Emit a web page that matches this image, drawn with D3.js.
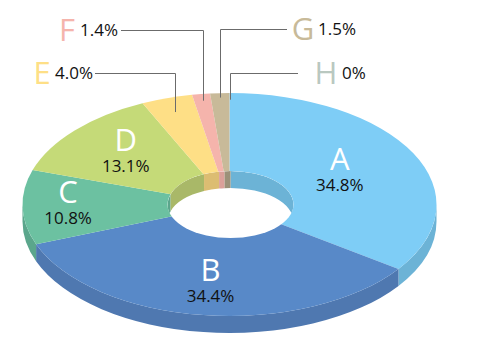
<!DOCTYPE html>
<html>
<head>
<meta charset="utf-8">
<script src="https://cdn.jsdelivr.net/npm/d3@7"></script>
<style>
    html, body { margin: 0; padding: 0; background: #fff; }
    text { font-family: "Open Sans", "Noto Sans", sans-serif; }
</style>
</head>
<body>
<div id="chart"></div>
<script>
// Chart data
const names = ['A', 'B', 'C', 'D', 'E', 'F', 'G', 'H'];
const values = [34.8, 34.4, 10.8, 13.1, 4.0, 1.4, 1.5, 0];
const valueLabels = ['34.8%', '34.4%', '10.8%', '13.1%', '4.0%', '1.4%', '1.5%', '0%'];

// Colours per slice: top surface, outer/inner wall
const topColors = ['#7ecdf6', '#5889c8', '#6cc1a1', '#c5da78', '#fedf86', '#f5b4ac', '#c8ba99', '#b9c8c0'];
const outerColors = ['#6cb3d6', '#4f78b0', '#5ba68c', '#a9bb68', '#dcbd72', '#d59a95', '#a89c82', '#a0aea6'];
const innerColors = ['#6cb3d6', '#4f78b0', '#5ba68c', '#a9b868', '#dcbd72', '#dba09a', '#9c9179', '#a0aea6'];

// Layout
const width = 477, height = 356;
const cx = 229.5, cy = 204.5;
const rx = 207, ry = 111.5, depth = 17;
const holeCx = 230.5, holeRx = 63, holeRy = 33.5;

// Inside labels: name of slice -> distance along the radius
const insideRadius = {A: 0.6, B: 0.73, C: 0.78, D: 0.67};
// Outside labels: elbow height, end of the line, position of the texts
const outside = {
    E: {r: 0.87, y: 73, lineEnd: 95, letterX: 42, valueX: 55},
    F: {r: 0.94, y: 30, lineEnd: 121, letterX: 67, valueX: 80},
    G: {r: 0.96, y: 29, lineEnd: 287, letterX: 303, valueX: 318},
    H: {r: 0.94, y: 73, lineEnd: 298, letterX: 326, valueX: 342}
};

const svg = d3.select('#chart').append('svg')
    .attr('width', width).attr('height', height);

const slices = d3.pie().sort(null).value(d => d)(values)
    .map((d, i) => ({...d, name: names[i], label: valueLabels[i], index: i}));

// Point on an ellipse, angle measured clockwise from the top
const px = (a, r) => cx + r * Math.sin(a);
const py = (a, r) => cy - r * (ry / rx) * Math.cos(a);

// Wall band between an arc of an ellipse and the same arc moved down
function wallPath(x, a0, a1, r, yr){
    const large = a1 - a0 > Math.PI ? 1 : 0;
    const x0 = x + r * Math.sin(a0), y0 = cy - yr * Math.cos(a0);
    const x1 = x + r * Math.sin(a1), y1 = cy - yr * Math.cos(a1);
    return `M${x0},${y0}A${r},${yr} 0 ${large} 1 ${x1},${y1}`
        + `L${x1},${y1 + depth}A${r},${yr} 0 ${large} 0 ${x0},${y0 + depth}Z`;
}

// Clip hole walls to the hole
svg.append('clipPath').attr('id', 'hole')
    .append('ellipse')
    .attr('cx', holeCx).attr('cy', cy).attr('rx', holeRx).attr('ry', holeRy);

// Outer wall, only the front half can be seen
svg.append('g').selectAll('path')
    .data(slices.filter(d => d.endAngle > Math.PI / 2 && d.startAngle < 3 * Math.PI / 2))
    .join('path')
    .attr('fill', d => outerColors[d.index])
    .attr('d', d => wallPath(cx,
        Math.max(d.startAngle, Math.PI / 2),
        Math.min(d.endAngle, 3 * Math.PI / 2), rx, ry));

// Top surface
const arc = d3.arc().innerRadius(0).outerRadius(rx);
svg.append('g')
    .attr('transform', `translate(${cx},${cy}) scale(1,${ry / rx})`)
    .selectAll('path')
    .data(slices)
    .join('path')
    .attr('fill', d => topColors[d.index])
    .attr('d', arc);

// The hole
svg.append('ellipse')
    .attr('cx', holeCx).attr('cy', cy).attr('rx', holeRx).attr('ry', holeRy)
    .attr('fill', '#fff');

// Inner wall, only the back half can be seen
const wrap = a => a > Math.PI ? a - 2 * Math.PI : a;
svg.append('g').attr('clip-path', 'url(#hole)').selectAll('path')
    .data(slices.filter(d => d.value > 0 && (d.startAngle < Math.PI / 2 || d.endAngle > 3 * Math.PI / 2)))
    .join('path')
    .attr('fill', d => innerColors[d.index])
    .attr('d', d => wallPath(holeCx,
        Math.max(wrap(d.startAngle), -Math.PI / 2),
        Math.min(wrap(d.endAngle), Math.PI / 2), holeRx, holeRy));

// Labels inside the slices
const inner = svg.append('g').selectAll('g')
    .data(slices.filter(d => insideRadius[d.name]))
    .join('g')
    .attr('transform', d => {
        const mid = (d.startAngle + d.endAngle) / 2, r = rx * insideRadius[d.name];
        return `translate(${px(mid, r)},${py(mid, r)})`;
    });
inner.append('text')
    .attr('text-anchor', 'middle').attr('y', -4)
    .attr('font-size', 31).attr('fill', '#fff')
    .text(d => d.name);
inner.append('text')
    .attr('text-anchor', 'middle').attr('y', 17)
    .attr('font-size', 17).attr('fill', '#111')
    .text(d => d.label);

// Leader lines and labels outside
const outer = slices.filter(d => outside[d.name]);
const lineX = d => px((d.startAngle + d.endAngle) / 2, rx * outside[d.name].r);
const lineY = d => py((d.startAngle + d.endAngle) / 2, rx * outside[d.name].r);

svg.append('g').selectAll('path')
    .data(outer)
    .join('path')
    .attr('fill', 'none').attr('stroke', '#6b6b6b').attr('stroke-width', 1)
    .attr('d', d => `M${Math.round(lineX(d)) + 0.5},${lineY(d)}V${outside[d.name].y + 0.5}H${outside[d.name].lineEnd}`);

svg.append('g').selectAll('text')
    .data(outer)
    .join('text')
    .attr('text-anchor', 'middle')
    .attr('x', d => outside[d.name].letterX)
    .attr('y', d => outside[d.name].y + 10.5)
    .attr('font-size', 31)
    .attr('fill', d => topColors[d.index])
    .text(d => d.name);

svg.append('g').selectAll('text')
    .data(outer)
    .join('text')
    .attr('x', d => outside[d.name].valueX)
    .attr('y', d => outside[d.name].y + 5.5)
    .attr('font-size', 17)
    .attr('fill', '#111')
    .text(d => d.label);
</script>
</body>
</html>
